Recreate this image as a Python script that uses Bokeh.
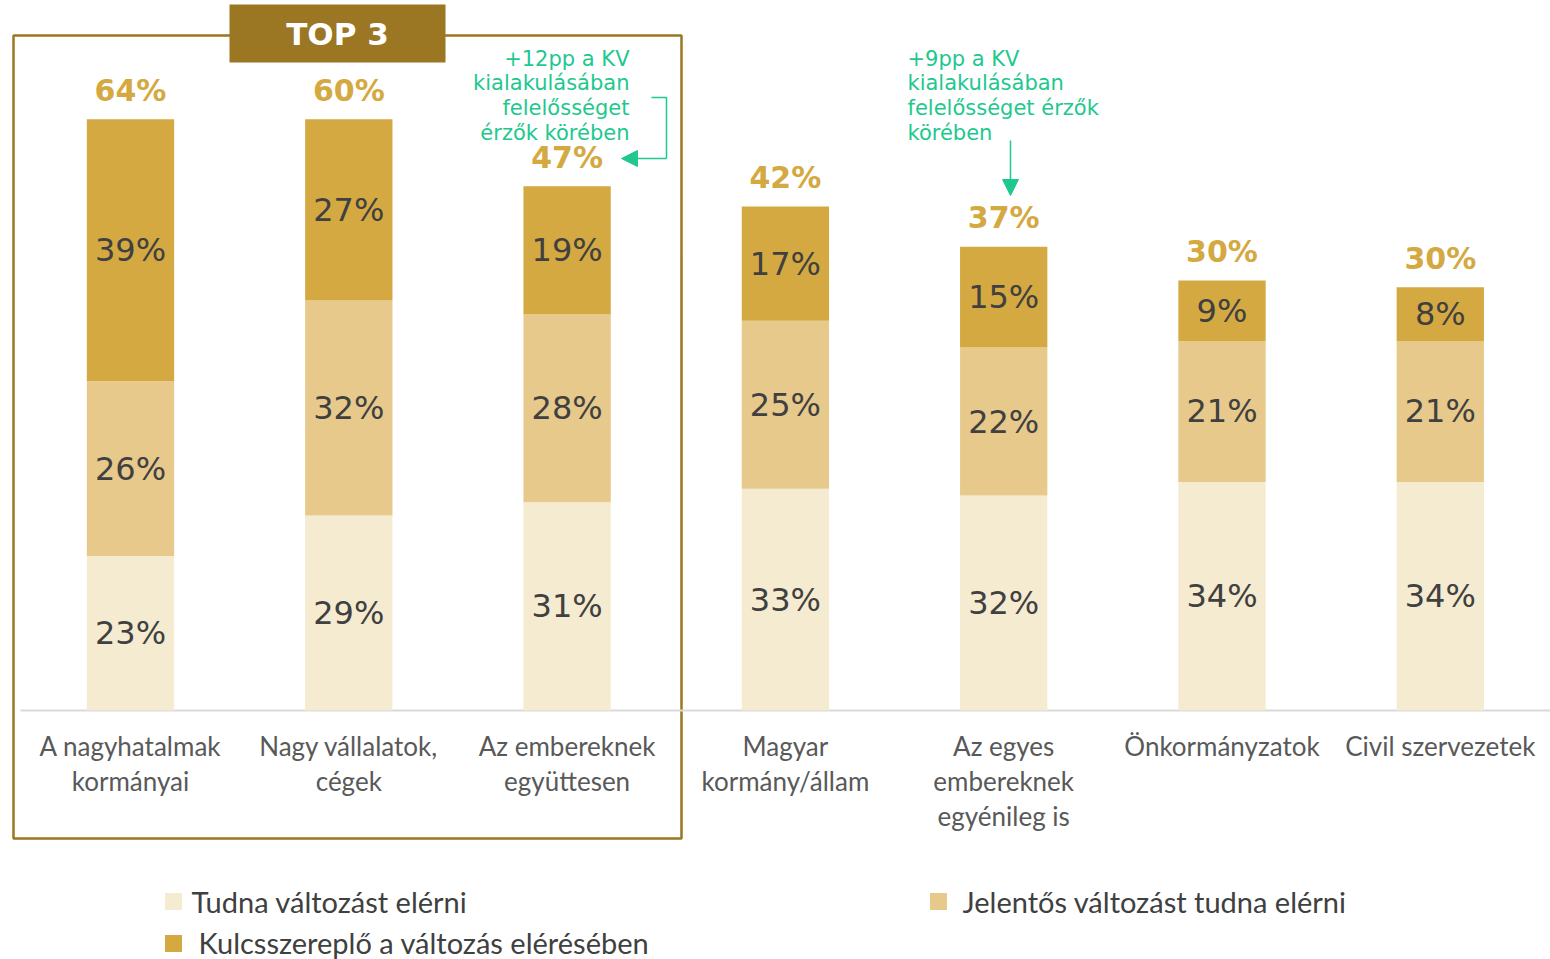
from bokeh.plotting import figure
from bokeh.models import ColumnDataSource, Arrow, NormalHead
from bokeh.core.properties import value
from bokeh.embed import file_html
from bokeh.resources import INLINE

# ---------------- data ----------------
categories = ["A nagyhatalmak\nkormányai", "Nagy vállalatok,\ncégek", "Az embereknek\negyüttesen",
              "Magyar\nkormány/állam", "Az egyes\nembereknek\negyénileg is", "Önkormányzatok",
              "Civil szervezetek"]
tudna = [23, 29, 31, 33, 32, 34, 34]
jelentos = [26, 32, 28, 25, 22, 21, 21]
kulcs = [39, 27, 19, 17, 15, 9, 8]
total_labels = [64, 60, 47, 42, 37, 30, 30]
series_names = ["Tudna változást elérni", "Jelentős változást tudna elérni",
                "Kulcsszereplő a változás elérésében"]
note1 = "+12pp a KV\nkialakulásában\nfelelősséget\nérzők körében"
note2 = "+9pp a KV\nkialakulásában\nfelelősséget érzők\nkörében"
top_label = "TOP 3"

# ---------------- style ----------------
C_LIGHT = "#F5EBD1"
C_MID = "#E6C98B"
C_DARK = "#D4A941"
C_BOX = "#9B7623"
C_GREEN = "#1EC88E"
C_TXT = "#404040"
C_CAT = "#595959"

FIG_W, FIG_H = 1550, 959
PX_X = 218.3   # pixels per category
PX_Y = 6.72    # pixels per percentage point
x_start = -130 / PX_X
x_end = x_start + FIG_W / PX_X
y_start = -(FIG_H - 710) / PX_Y
y_end = y_start + FIG_H / PX_Y


def sx(X):  # page pixel -> data x
    return x_start + X / PX_X


def sy(Y):  # page pixel -> data y
    return y_start + (FIG_H - Y) / PX_Y


n = len(categories)
xs = list(range(n))
src = ColumnDataSource(dict(x=xs, tudna=tudna, jelentos=jelentos, kulcs=kulcs))

p = figure(width=FIG_W, height=FIG_H, x_range=(x_start, x_end), y_range=(y_start, y_end),
           output_backend="svg", toolbar_location=None, x_axis_location=None,
           y_axis_location=None, min_border=0, outline_line_color=None)
p.grid.visible = False
p.background_fill_color = "white"
p.border_fill_color = "white"

# TOP 3 frame
p.quad(left=[sx(13)], right=[sx(681)], bottom=[sy(838)], top=[sy(35)],
       fill_color=None, line_color=C_BOX, line_width=2.5)

# baseline
p.segment(x0=[sx(20)], x1=[x_end], y0=[0], y1=[0], line_color="#D9D9D9", line_width=2)

# bars
p.vbar_stack(["tudna", "jelentos", "kulcs"], x="x", width=0.4, source=src,
             color=[C_LIGHT, C_MID, C_DARK], line_color=None)

# segment labels
seg_x, seg_y, seg_t = [], [], []
for i in range(n):
    b = 0
    for v in (tudna[i], jelentos[i], kulcs[i]):
        seg_x.append(i)
        seg_y.append(b + v / 2)
        seg_t.append(f"{v}%")
        b += v
p.text(x=seg_x, y=seg_y, text=seg_t, text_align="center", text_baseline="middle",
       text_font=value("DejaVu Sans"), text_font_size="32px", text_color=C_TXT)

# total labels
tops = [tudna[i] + jelentos[i] + kulcs[i] for i in range(n)]
p.text(x=xs, y=[t + 29 / PX_Y for t in tops], text=[f"{v}%" for v in total_labels],
       text_align="center", text_baseline="middle", text_font=value("DejaVu Sans"),
       text_font_style="bold", text_font_size="30px", text_color=C_DARK)

# category labels
p.text(x=xs, y=[sy(729)] * n, text=categories, text_align="center", text_baseline="top",
       text_font=value("Lato"), text_font_size="26px", text_color=C_CAT,
       text_line_height=1.1)

# TOP 3 banner
p.quad(left=[sx(229)], right=[sx(445)], bottom=[sy(62)], top=[sy(4)],
       fill_color=C_BOX, line_color=None)
p.text(x=[sx(337)], y=[sy(33)], text=[top_label], text_align="center", text_baseline="middle",
       text_font=value("DejaVu Sans"), text_font_style="bold", text_font_size="31px",
       text_color="white")

# annotations
p.text(x=[sx(629)], y=[sy(46)], text=[note1], text_align="right", text_baseline="top",
       text_font=value("DejaVu Sans"), text_font_size="21px", text_color=C_GREEN,
       text_line_height=1.03)
p.text(x=[sx(907)], y=[sy(46)], text=[note2], text_align="left", text_baseline="top",
       text_font=value("DejaVu Sans"), text_font_size="21px", text_color=C_GREEN,
       text_line_height=1.03)
p.line(x=[sx(651), sx(666), sx(666)], y=[sy(97), sy(97), sy(158)], line_color=C_GREEN,
       line_width=1.5)
p.add_layout(Arrow(end=NormalHead(size=16, fill_color=C_GREEN, line_color=C_GREEN),
                   x_start=sx(666), y_start=sy(158), x_end=sx(621), y_end=sy(158),
                   line_color=C_GREEN, line_width=1.5))
p.add_layout(Arrow(end=NormalHead(size=16, fill_color=C_GREEN, line_color=C_GREEN),
                   x_start=sx(1010), y_start=sy(140), x_end=sx(1010), y_end=sy(195),
                   line_color=C_GREEN, line_width=1.5))

# legend
p.scatter(x=[sx(173), sx(938), sx(173)], y=[sy(901), sy(901), sy(943)], marker="square",
          size=17, fill_color=[C_LIGHT, C_MID, C_DARK], line_color=None)
p.text(x=[sx(191), sx(962), sx(198)], y=[sy(901), sy(901), sy(942)], text=series_names,
       text_align="left", text_baseline="middle", text_font=value("Lato"),
       text_font_size="29px", text_color=C_TXT)

open("out.html", "w").write(file_html(p, INLINE))
